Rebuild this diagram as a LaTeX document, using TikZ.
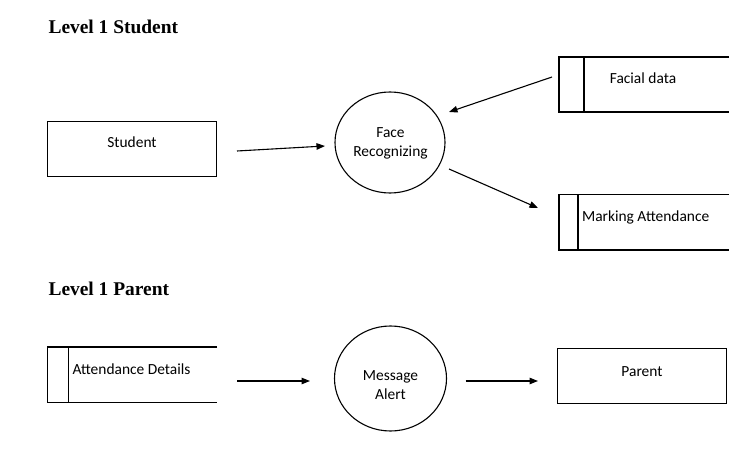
\documentclass[tikz,border=0pt]{standalone}
\usepackage{fontspec}
\setmainfont{Carlito}
\newfontfamily\headfont{Liberation Serif}
\usetikzlibrary{shapes.geometric,arrows.meta}
\begin{document}
\begin{tikzpicture}[x=1bp,y=-1bp,
  line width=1.1bp,
  txt/.style={font=\fontsize{15.5}{18}\selectfont, inner sep=0pt},
  head/.style={font=\headfont\bfseries\fontsize{19.5}{22}\selectfont, inner sep=0pt, anchor=base west},
  proc/.style={draw, ellipse, inner sep=0pt, minimum width=110bp, minimum height=101bp},
  flow/.style={-{Triangle[length=8.5bp,width=6.5bp]}}
]
\useasboundingbox (0,0) rectangle (747,452);

% headings
\node[head] (h1) at (48,34) {Level 1 Student};
\node[head] (h2) at (48,296) {Level 1 Parent};

% Student entity
\node[draw, rectangle, minimum width=169bp, minimum height=55bp, inner sep=0pt] (student) at (132.2,149.2) {};
\node[txt, anchor=base] (studentT) at (132,148) {Student};

% Face Recognizing process
\node[proc] (fr) at (390,142.5) {};
\node[txt, anchor=base] (frT1) at (390.5,137.5) {Face};
\node[txt, anchor=base] (frT2) at (390.5,157) {Recognizing};

% Facial data store
\draw (729,57) -- (559,57) -- (559,112) -- (729,112);
\draw (584,57) -- (584,112);
\node[txt, anchor=base] (fd) at (643,84) {Facial data};

% Marking Attendance store
\draw (729,194.5) -- (559,194.5) -- (559,250) -- (729,250);
\draw (578,194.5) -- (578,250);
\node[txt, anchor=base west] (ma) at (581.5,221.5) {Marking Attendance};

% arrows level 1 student
\coordinate (a1s) at (237,151);
\coordinate (a1e) at (325,146);
\coordinate (a2s) at (552,77);
\coordinate (a2e) at (449,112);
\coordinate (a3s) at (449,169);
\coordinate (a3e) at (538,208);
\draw[flow] (a1s) -- (a1e);
\draw[flow] (a2s) -- (a2e);
\draw[flow] (a3s) -- (a3e);

% Attendance Details store
\draw (217,347) -- (47.5,347) -- (47.5,402.5) -- (217,402.5);
\draw (68.7,347) -- (68.7,402.5);
\node[txt, anchor=base west] (ad) at (72,374) {Attendance Details};

% Message Alert process
\node[proc, minimum width=112bp, minimum height=105bp] (ma2) at (390.5,378.5) {};
\node[txt, anchor=base] (maT1) at (390.5,380) {Message};
\node[txt, anchor=base] (maT2) at (390.5,399.5) {Alert};

% Parent entity
\node[draw, rectangle, minimum width=169.5bp, minimum height=55bp, inner sep=0pt] (parent) at (642,375.8) {};
\node[txt, anchor=base] (parentT) at (642,376) {Parent};

% arrows level 1 parent
\coordinate (b1s) at (237,381);
\coordinate (b1e) at (310,381);
\coordinate (b2s) at (465.5,381);
\coordinate (b2e) at (538,381);
\draw[flow] (b1s) -- (b1e);
\draw[flow] (b2s) -- (b2e);
\end{tikzpicture}
\end{document}
